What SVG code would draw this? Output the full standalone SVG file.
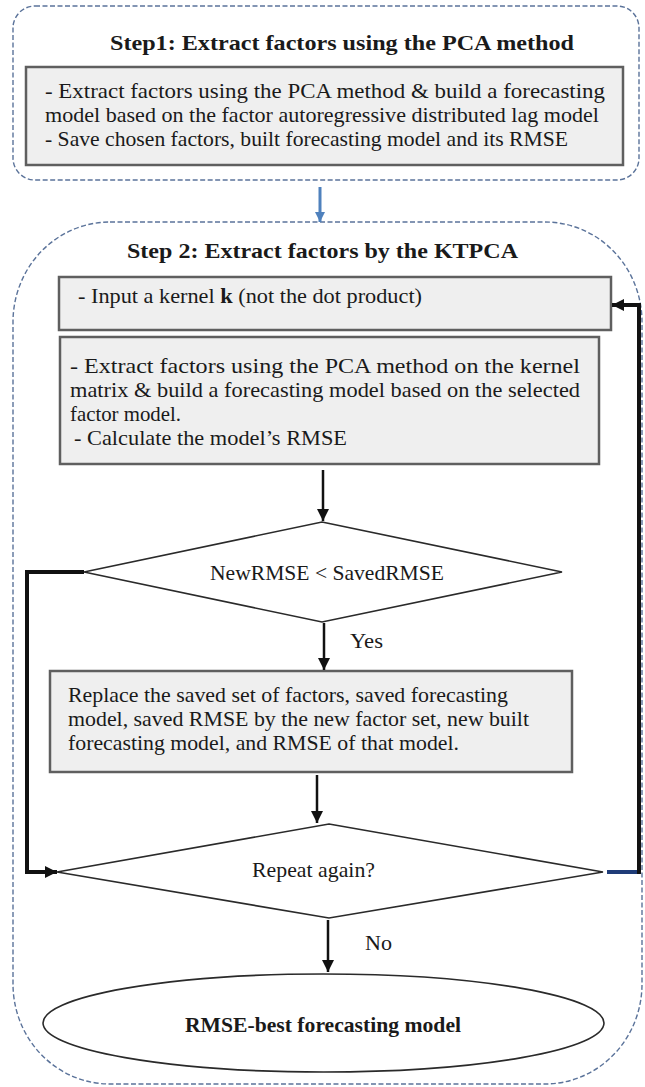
<svg xmlns="http://www.w3.org/2000/svg" width="645" height="1087" viewBox="0 0 645 1087">
<style>
text{font-family:"Liberation Serif","Times New Roman",serif;font-size:21.5px;fill:#1a1a1a}
.b{font-weight:bold}
.t{font-size:22px}
.outer{fill:none;stroke:#5b739a;stroke-width:1.4;stroke-dasharray:5 2.5}
.box{fill:#efefef;stroke:#5f5f5f;stroke-width:2.5}
.dec{fill:#fff;stroke:#2a2a2a;stroke-width:1.6}
.con{fill:none;stroke:#111;stroke-width:2.5}
.loop{fill:none;stroke:#111;stroke-width:4}
</style>
<defs>
<marker id="ah" markerUnits="userSpaceOnUse" markerWidth="13" markerHeight="12" refX="12" refY="6" orient="auto">
<path d="M0,0 L12,6 L0,12 z" fill="#111"/>
</marker>
<marker id="ahb" markerUnits="userSpaceOnUse" markerWidth="11" markerHeight="10" refX="10" refY="5" orient="auto">
<path d="M0,0 L10,5 L0,10 z" fill="#4f81bd"/>
</marker>
</defs>
<g id="step1">
<rect class="outer" x="13" y="6" width="626" height="174" rx="22"/>
<text class="b t" x="110" y="50" textLength="464" lengthAdjust="spacingAndGlyphs">Step1: Extract factors using the PCA method</text>
<rect class="box" x="26" y="67" width="597" height="98"/>
<text x="45" y="98" textLength="560" lengthAdjust="spacingAndGlyphs">- Extract factors using the PCA method &amp; build a forecasting</text>
<text x="45" y="122" textLength="554" lengthAdjust="spacingAndGlyphs">model based on the factor autoregressive distributed lag model</text>
<text x="45" y="146" textLength="523" lengthAdjust="spacingAndGlyphs">- Save chosen factors, built forecasting model and its RMSE</text>
</g>
<g id="step2">
<rect class="outer" x="13" y="222" width="629" height="862" rx="97" ry="100"/>
<text class="b t" x="127" y="258" textLength="391" lengthAdjust="spacingAndGlyphs">Step 2: Extract factors by the KTPCA</text>
</g>
<g id="input">
<rect class="box" x="59" y="277" width="552" height="53"/>
<text x="78" y="303" textLength="344" lengthAdjust="spacingAndGlyphs">-  Input a kernel <tspan class="b">k</tspan> (not the dot product)</text>
</g>
<g id="extract">
<rect class="box" x="60" y="337" width="539" height="127"/>
<text x="70" y="373" textLength="510" lengthAdjust="spacingAndGlyphs">-  Extract factors using the PCA method on the kernel</text>
<text x="70" y="397" textLength="510" lengthAdjust="spacingAndGlyphs">matrix &amp; build a forecasting model based on the selected</text>
<text x="70" y="421" textLength="111" lengthAdjust="spacingAndGlyphs">factor model.</text>
<text x="74" y="445" textLength="273" lengthAdjust="spacingAndGlyphs">- Calculate the model’s RMSE</text>
</g>
<g id="decision1">
<polygon class="dec" points="322,522 562,572 322,622 84,572"/>
<text x="210" y="580" textLength="234" lengthAdjust="spacingAndGlyphs">NewRMSE &lt; SavedRMSE</text>
</g>
<g id="replace">
<rect class="box" x="50" y="671" width="522" height="101"/>
<text x="68" y="702" textLength="440" lengthAdjust="spacingAndGlyphs">Replace the saved set of factors, saved forecasting</text>
<text x="68" y="726" textLength="461" lengthAdjust="spacingAndGlyphs">model, saved RMSE by the new factor set, new built</text>
<text x="68" y="750" textLength="391" lengthAdjust="spacingAndGlyphs">forecasting model, and RMSE of that model.</text>
</g>
<g id="decision2">
<polygon class="dec" points="329,824 603,872 329,918 57,872"/>
<text x="252" y="877" textLength="123" lengthAdjust="spacingAndGlyphs">Repeat again?</text>
</g>
<g id="result">
<ellipse class="dec" cx="323.5" cy="1023" rx="280.5" ry="49"/>
<text class="b" x="185" y="1032" textLength="276" lengthAdjust="spacingAndGlyphs">RMSE-best forecasting model</text>
</g>
<g id="connectors">
<line x1="320" y1="187" x2="320" y2="222" stroke="#4f81bd" stroke-width="3" marker-end="url(#ahb)"/>
<line class="con" x1="323" y1="470" x2="323" y2="521" marker-end="url(#ah)"/>
<line class="con" x1="324" y1="623" x2="324" y2="670" marker-end="url(#ah)"/>
<line class="con" x1="317" y1="775" x2="317" y2="823" marker-end="url(#ah)"/>
<line class="con" x1="328" y1="920" x2="328" y2="972" marker-end="url(#ah)"/>
<polyline class="loop" points="84,572 27,572 27,872 57,872" marker-end="url(#ah)"/>
<line x1="607" y1="872" x2="641" y2="872" stroke="#1f3c78" stroke-width="4"/>
<polyline class="loop" points="639,874 639,305 612,305" marker-end="url(#ah)"/>
<text x="350" y="648" textLength="33" lengthAdjust="spacingAndGlyphs">Yes</text>
<text x="365" y="950" textLength="27" lengthAdjust="spacingAndGlyphs">No</text>
</g>
</svg>
